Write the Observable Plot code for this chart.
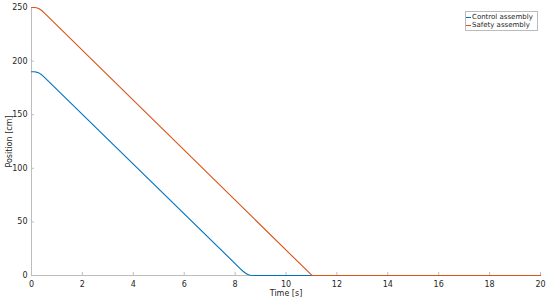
<!DOCTYPE html>
<html><head><meta charset="utf-8">
<script src="https://cdn.jsdelivr.net/npm/d3@7"></script>
<script src="https://cdn.jsdelivr.net/npm/@observablehq/plot@0.6"></script>
<style>
body{margin:0;background:#fff;font-family:"DejaVu Sans",sans-serif;}
#wrap{position:relative;width:550px;height:300px;}
#legend{position:absolute;left:465px;top:11px;width:71px;border:1px solid #bbb;background:#fff;font-size:7px;color:#262626;line-height:8px;padding:1px 0 1px 0;}
#legend div{display:flex;align-items:center;white-space:nowrap;}
#legend span.sw{display:inline-block;flex-shrink:0;width:5px;height:0;border-top:1.2px solid;margin-right:1px;}
</style></head>
<body><div id="wrap"><div id="chart"></div><div id="legend"></div></div>
<script>
const seriesNames = ["Control assembly", "Safety assembly"];
const seriesColors = ["#0072BD", "#D95319"];
const controlTime = [0, 0.1, 0.2, 0.3, 0.4, 0.5, 8.2, 8.3, 8.4, 8.5, 8.6, 8.7, 20];
const controlPos  = [190, 190, 189.7, 188.8, 187.2, 185, 6.5, 4.2, 2.3, 1, 0.3, 0, 0];
const safetyTime = [0, 0.1, 0.2, 0.3, 0.4, 0.5, 11.0, 11.05, 20];
const safetyPos  = [250, 250, 249.7, 248.8, 247.2, 245, 0.5, 0, 0];
const xTicks = [0,2,4,6,8,10,12,14,16,18,20];
const yTicks = [0,50,100,150,200,250];

const data = [
  ...controlTime.map((t,i)=>({t, p: controlPos[i], s: seriesNames[0]})),
  ...safetyTime.map((t,i)=>({t, p: safetyPos[i], s: seriesNames[1]}))
];

const chart = Plot.plot({
  width: 550, height: 300,
  marginLeft: 31, marginRight: 10, marginTop: 7, marginBottom: 25,
  style: {fontFamily: "DejaVu Sans, sans-serif", fontSize: "8px", color: "#262626", background: "#fff"},
  x: {domain: [0, 20]},
  y: {domain: [0, 250]},
  color: {domain: seriesNames, range: seriesColors},
  marks: [
    Plot.ruleX([0], {stroke: "#bdbdbd"}),
    Plot.ruleY([0], {stroke: "#bdbdbd"}),
    Plot.axisX({ticks: xTicks, tickSize: -3, tickPadding: 9, stroke: "#bdbdbd", label: "Time [s]", labelAnchor: "center", labelArrow: "none", labelOffset: 20, tickFormat: d=>String(d)}),
    Plot.axisY({ticks: yTicks, tickSize: -3, tickPadding: 7, stroke: "#bdbdbd", label: "Position [cm]", labelAnchor: "center", labelArrow: "none", labelOffset: 25, tickFormat: d=>String(d)}),
    Plot.line(data, {x: "t", y: "p", z: "s", stroke: "s", strokeWidth: 1.1, curve: "linear"})
  ]
});
document.getElementById("chart").appendChild(chart);
const lg = document.getElementById("legend");
seriesNames.forEach((n,i)=>{
  const d = document.createElement("div");
  d.innerHTML = `<span class="sw" style="border-color:${seriesColors[i]}"></span>${n}`;
  lg.appendChild(d);
});
</script></body></html>
